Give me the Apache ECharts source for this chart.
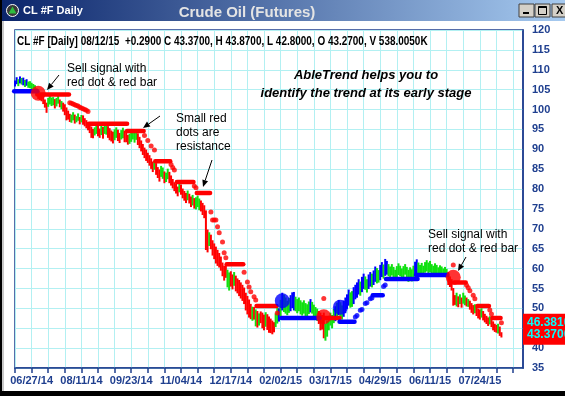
<!DOCTYPE html>
<html><head><meta charset="utf-8">
<script src="https://cdn.jsdelivr.net/npm/echarts@6/dist/echarts.min.js"></script>
<style>html,body{margin:0;padding:0;background:#fff;overflow:hidden}#c{width:565px;height:396px}</style>
</head><body><div id="c"></div><script>
// ---------- DATA ----------
const firstIndex = -10;               // bar index of first bar (0 = 06/27/14)
const tickLabels = ['06/27/14','08/11/14','09/23/14','11/04/14','12/17/14','02/02/15','03/17/15','04/29/15','06/11/15','07/24/15'];
const labelStep = 30;                 // bars between date labels
const tickStep = 10;                  // bars between tick marks
const yTicks = [35,40,45,50,55,60,65,70,75,80,85,90,95,100,105,110,115,120];

const high = [
 107.2,108.0,107.5,108.2,107.8,107.9,107.3,107.5,106.9,107.0,
 106.6,106.3,106.0,105.2,104.6,103.6,103.4,103.2,102.4,101.6,
 102.8,103.4,102.9,103.0,102.5,102.8,103.3,102.4,102.0,101.6,
 101.2,100.4,99.6,98.8,98.6,99.2,98.6,98.2,98.9,98.0,
 98.5,98.4,97.7,97.2,96.6,96.0,95.6,95.0,95.4,95.9,
 95.8,95.1,95.8,95.5,96.0,95.9,95.7,95.2,94.6,94.3,
 94.9,95.4,94.8,94.0,94.7,95.3,94.6,94.2,93.5,93.8,
 94.3,94.5,94.2,94.4,93.9,93.0,92.1,91.2,90.3,89.8,
 89.0,88.4,87.6,86.8,86.9,86.4,85.4,84.8,85.7,85.3,
 84.3,84.0,85.0,84.2,83.3,82.4,81.6,81.2,80.5,81.4,
 81.0,80.0,79.4,78.9,79.5,78.7,78.0,78.4,77.6,77.8,
 78.2,77.5,77.0,76.4,75.8,74.5,69.7,69.0,68.4,67.0,
 66.2,65.4,64.6,63.8,62.9,61.4,60.6,60.8,59.6,58.9,
 59.2,58.4,59.0,58.1,57.4,57.0,56.4,55.8,55.1,53.8,
 53.0,52.1,51.0,50.3,50.2,49.6,49.2,48.6,49.1,48.8,
 48.3,48.9,48.4,47.8,47.3,46.8,46.4,48.6,50.3,49.9,
 52.0,53.8,53.3,52.6,51.8,52.5,53.2,53.9,54.0,52.8,
 52.2,52.6,51.9,51.4,51.9,51.2,50.9,51.6,52.2,51.5,
 50.8,50.2,49.8,49.2,48.8,48.2,48.8,46.0,46.8,48.0,
 48.8,48.2,49.7,50.4,51.3,52.0,51.4,50.6,51.8,52.6,
 53.4,54.6,53.9,54.2,55.2,55.8,56.4,57.2,56.6,57.8,
 58.6,57.9,57.2,58.4,59.0,58.6,59.4,60.4,60.0,59.5,
 60.8,61.5,60.9,62.3,61.8,61.0,60.4,61.0,60.3,59.6,
 60.5,61.2,60.6,59.9,60.5,61.0,60.3,59.6,60.2,59.7,
 60.6,61.6,62.2,61.4,60.8,61.3,60.6,61.5,62.0,61.4,
 61.8,61.0,60.6,61.2,60.8,60.2,60.7,60.4,59.9,60.3,
 59.8,59.0,57.9,57.2,55.0,53.2,53.8,52.9,53.4,52.6,
 53.8,53.1,52.6,52.2,51.8,51.2,50.7,50.9,50.3,49.8,
 49.6,49.9,49.2,48.5,48.0,47.6,47.9,47.2,46.6,46.0,
 45.7,46.0,45.3,43.87
];
const low = [
 105.9,106.5,106.0,106.7,106.4,106.2,105.8,106.1,105.6,105.5,
 105.2,104.9,104.5,103.6,102.8,102.5,102.2,101.5,100.6,99.3,
 100.8,101.4,101.0,101.2,100.4,100.9,101.6,100.7,100.2,99.6,
 98.7,97.4,97.6,97.0,96.8,97.4,96.6,96.9,97.3,96.4,
 96.9,96.3,95.9,95.4,94.9,94.2,93.0,92.9,93.6,94.0,
 93.4,93.0,93.7,92.8,94.0,93.8,93.0,92.4,92.1,91.6,
 92.4,93.0,92.2,91.7,92.6,92.9,91.9,91.9,91.3,91.5,
 92.0,92.6,91.8,92.5,91.2,90.4,89.6,88.7,87.9,87.2,
 86.7,86.0,85.2,84.4,85.0,83.7,82.9,82.0,83.2,82.7,
 81.6,81.9,82.6,81.6,81.0,80.3,79.6,79.0,78.3,79.3,
 78.7,77.8,77.2,76.6,77.3,76.5,75.6,76.0,75.2,75.0,
 75.6,74.8,74.5,73.6,72.8,64.8,64.2,65.8,65.0,63.4,
 62.5,61.4,60.8,60.4,59.6,58.2,57.1,57.8,55.4,54.6,
 55.6,54.9,55.8,54.4,53.9,53.2,52.6,52.0,51.2,49.6,
 48.6,47.8,47.4,47.0,47.3,45.6,45.3,45.8,46.4,45.1,
 44.6,45.5,44.7,44.0,43.9,43.6,44.1,45.4,46.3,46.8,
 47.8,49.6,49.2,48.8,48.4,49.0,49.4,50.2,49.6,49.4,
 48.9,49.4,48.6,48.3,48.8,48.2,48.0,48.7,49.1,48.8,
 48.1,47.6,47.0,46.2,44.6,44.8,42.6,42.0,43.0,44.6,
 45.8,45.1,46.4,46.9,47.6,48.4,47.9,47.3,48.0,48.9,
 50.0,50.8,50.3,50.5,51.2,52.4,52.8,53.6,53.3,54.2,
 55.0,54.8,54.1,55.0,55.6,55.4,56.0,56.8,56.4,56.6,
 57.2,58.0,57.6,58.3,58.6,58.2,57.9,58.4,57.8,57.0,
 57.6,58.5,58.2,57.4,58.0,58.6,57.6,56.8,57.3,56.9,
 57.8,58.3,58.9,58.6,58.4,59.0,58.3,59.1,59.4,58.8,
 59.2,58.6,58.4,58.9,58.5,58.1,58.8,58.4,58.2,58.6,
 57.9,56.0,55.5,54.6,50.8,51.0,50.6,50.4,51.2,50.3,
 51.3,50.9,50.6,50.5,49.8,49.0,48.6,48.9,48.2,47.6,
 47.3,47.8,47.1,46.6,46.2,45.7,46.1,45.4,44.6,44.2,
 44.0,43.8,43.2,42.8
];
// bar colour per bar: b = up (blue), g = neutral (green), r = down (red)
const barColors = [
 'bbgbgbgbgg','gggrrrrrrr','ggggrggrgr','rrrrggrggr','grrrrrrrgg','rrgrggrrrr',
 'ggrrggrrrg','ggggrrrrrr','rrrrgrrrgg','rggrrrrrrg','rrrrgrrgrg','ggrrrrrgrr',
 'rrrrrrrrgg','rrgrrrrrrr','rrrgrgrgrr','rgrrrrrggb','gbggggbbbg','ggggggggbg',
 'gggrrrrggg','gggbgbggbb','bbggbbbbgb','bggbbgbbgg','bbgbbggggg','gggggggggg',
 'gbbggggggg','gggggggggg','grrrrrgrgr','ggrgrrrgrr','rgrrrrgrrr','rgrr'
];
// stop bars: [fromBar, toBar, price]
const redStopBars = [[4,22,103.8],[35,57,96.4],[58,67,94.6],[75,83,87.0],[88,97,81.8],[100,107,79.0],
  [118,127,61.1],[136,147,50.6],[176,185,47.6],[255,261,56.5],[269,275,50.6],[278,282,47.6]];
const blueStopBars = [[-10,3,104.6],[151,173,47.6],[186,194,46.6],[206,211,53.3],[214,232,57.4],[232,250,58.4]];
// stop dots: [bar, price]
const redStopDots = [[23,101.7],[24,101.6],[25,101.4],[26,101.2],[27,101.0],[28,100.9],[29,100.6],[30,100.4],
  [31,100.2],[32,100.0],[33,99.8],[34,99.5],[68,93.5],[70,92.2],[72,90.8],[74,89.8],[84,86.2],[85,85.4],[86,84.8],
  [98,80.8],[99,80.3],[108,74.2],[109,72.2],[110,72.2],[111,72.2],[112,70.5],[113,69.0],[115,66.7],[116,64.0],[117,62.7],
  [128,59.1],[130,56.6],[131,55.4],[132,54.2],[134,52.9],[135,52.1],[148,48.8],[176,52.5],[254,60.9],
  [262,55.8],[263,55.2],[264,54.4],[266,53.3],[267,52.4],[276,49.6],[277,48.6],[283,46.38]];
const blueStopDots = [[195,47.8],[196,48.2],[198,49.5],[199,49.7],[201,51.2],[202,51.4],[204,52.4],[205,52.6],[212,55.5],[213,55.9]];
// signal dots: [bar, price]
const redSignals = [[4,104.1],[176,47.9],[254,57.8]];
const blueSignals = [[151,51.9],[186,50.3]];
const lastValues = ['46.3810','43.3700'];
const headerText = 'CL #F [Daily] 08/12/15  +0.2900 C 43.3700, H 43.8700, L 42.8000, O 43.2700, V 538.0050K';

// ---------- CHART ----------
const FONT = 'Arial, "Liberation Sans", sans-serif';
const AXIS_BLUE = '#1f3f8f';
const GRID_CYAN = '#b2f0f2';
const colorMap = {r:'#ff0000', g:'#10e010', b:'#0000ff'};
const colStr = barColors.join('');
const barData = high.map((h,i)=>[firstIndex+i, low[i], h]);
const xMin = -10, xMax = 296;
const tickVals = []; for (let v = xMin; v <= 290; v += tickStep) tickVals.push(v);
const labelVals = tickLabels.map((_,i)=>i*labelStep);

const chart = echarts.init(document.getElementById('c'));

function stopBarSeries(data, color){
  return {
    type:'custom', data:data, z:4, silent:true,
    encode:{x:[0,1], y:2},
    renderItem:function(params, api){
      const a = api.coord([api.value(0)-0.5, api.value(2)]);
      const b = api.coord([api.value(1)+0.5, api.value(2)]);
      return {type:'line', shape:{x1:a[0],y1:a[1],x2:b[0],y2:b[1]}, style:{stroke:color, lineWidth:4.5, lineCap:'round'}};
    }
  };
}

chart.setOption({
  animation:false,
  backgroundColor:'#ffffff',
  grid:{left:15, right:42, top:30, bottom:28, show:true, backgroundColor:'#ffffff', borderColor:AXIS_BLUE, borderWidth:1.5},
  xAxis:{
    type:'value', min:xMin, max:xMax, interval:tickStep,
    axisLine:{show:true, onZero:false, lineStyle:{color:AXIS_BLUE, width:1.5}},
    axisTick:{show:true, length:5, customValues:tickVals, lineStyle:{color:AXIS_BLUE, width:1.5}},
    axisLabel:{customValues:labelVals, margin:7, color:AXIS_BLUE, fontFamily:FONT, fontWeight:'bold', fontSize:11,
      formatter:function(v){ const k = Math.round(v/labelStep); return (v % labelStep === 0 && k>=0 && k<tickLabels.length) ? tickLabels[k] : ''; }},
    splitLine:{show:true, lineStyle:{color:GRID_CYAN, width:1}}
  },
  yAxis:{
    type:'value', position:'right', min:yTicks[0], max:yTicks[yTicks.length-1], interval:5,
    axisLine:{show:true, onZero:false, lineStyle:{color:AXIS_BLUE, width:1.5}},
    axisTick:{show:false},
    axisLabel:{margin:9, color:AXIS_BLUE, fontFamily:FONT, fontWeight:'bold', fontSize:11},
    splitLine:{show:true, lineStyle:{color:GRID_CYAN, width:1}}
  },
  series:[
    {
      type:'custom', data:barData, z:3, silent:true,
      encode:{x:0, y:[1,2]},
      renderItem:function(params, api){
        const x = api.value(0);
        const a = api.coord([x, api.value(1)]);
        const b = api.coord([x, api.value(2)]);
        return {type:'line', shape:{x1:a[0],y1:a[1]+0.5,x2:b[0],y2:b[1]-0.5}, style:{stroke:colorMap[colStr[params.dataIndex]], lineWidth:2}};
      }
    },
    stopBarSeries(redStopBars, '#ff0000'),
    stopBarSeries(blueStopBars, '#0000ff'),
    {type:'scatter', data:redStopDots, symbol:'circle', symbolSize:5, z:5, silent:true, itemStyle:{color:'#ff0000'}},
    {type:'scatter', data:blueStopDots, symbol:'circle', symbolSize:5, z:5, silent:true, itemStyle:{color:'#0000ff'}},
    {type:'scatter', data:redSignals, symbol:'circle', symbolSize:15, z:6, silent:true, itemStyle:{color:'#ff0000'}},
    {type:'scatter', data:blueSignals, symbol:'circle', symbolSize:15, z:6, silent:true, itemStyle:{color:'#0000ff'}}
  ]
});

// ---------- window chrome & annotations ----------
function arrow(x1,y1,x2,y2){
  const ang = Math.atan2(y2-y1, x2-x1), L = 7, W = 3;
  const bx = x2 - L*Math.cos(ang), by = y2 - L*Math.sin(ang);
  const px = -Math.sin(ang)*W, py = Math.cos(ang)*W;
  return [
    {type:'line', z:100, shape:{x1:x1,y1:y1,x2:bx,y2:by}, style:{stroke:'#000', lineWidth:1}},
    {type:'polygon', z:100, shape:{points:[[x2,y2],[bx+px,by+py],[bx-px,by-py]]}, style:{fill:'#000'}}
  ];
}
function txt(x,y,text,opt,extra){
  return Object.assign({type:'text', x:x, y:y, z:100, style:Object.assign({text:text, fill:'#000', font:'12px '+FONT, textVerticalAlign:'middle', lineHeight:14}, opt||{})}, extra||{});
}
const yPix = v => chart.convertToPixel({yAxisIndex:0}, v);
const y1 = yPix(parseFloat(lastValues[0])), y2 = yPix(parseFloat(lastValues[1]));

const g = [
  // title bar
  {type:'rect', z:50, shape:{x:0,y:0,width:565,height:21},
   style:{fill:new echarts.graphic.LinearGradient(0,0,1,0,[{offset:0,color:'#0a246a'},{offset:1,color:'#a6caf0'}])}},
  {type:'circle', z:51, shape:{cx:12.5,cy:10.5,r:6}, style:{fill:'#3a3a3a', stroke:'#ffffff', lineWidth:1}},
  {type:'polygon', z:52, shape:{points:[[12.5,6.5],[16.5,13.5],[8.5,13.5]]}, style:{fill:'#2fbf3f'}},
  txt(23,10.5,'CL #F Daily',{fill:'#ffffff', font:'bold 11px '+FONT}),
  txt(247,13,'Crude Oil (Futures)',{fill:'#e4e4e4', font:'bold 15px '+FONT, textAlign:'center'}),
  // buttons
  {type:'rect', z:51, shape:{x:519,y:4,width:15,height:13}, style:{fill:'#d4d0c8', stroke:'#404040', lineWidth:1}},
  {type:'rect', z:52, shape:{x:523,y:12,width:6,height:2}, style:{fill:'#000'}},
  {type:'rect', z:51, shape:{x:535,y:4,width:15,height:13}, style:{fill:'#d4d0c8', stroke:'#404040', lineWidth:1}},
  {type:'rect', z:52, shape:{x:538.5,y:6.5,width:8,height:8}, style:{fill:'none', stroke:'#000', lineWidth:1}},
  {type:'rect', z:52, shape:{x:538.5,y:6.5,width:8,height:1.5}, style:{fill:'#000'}},
  {type:'rect', z:51, shape:{x:552,y:4,width:16,height:13}, style:{fill:'#d4d0c8', stroke:'#404040', lineWidth:1}},
  txt(556,11,'X',{fill:'#000', font:'bold 11px '+FONT}),
  // frame
  {type:'rect', z:50, shape:{x:0,y:0,width:2,height:396}, style:{fill:'#000'}},
  {type:'rect', z:50, shape:{x:2,y:21,width:2,height:372}, style:{fill:'#c8c8c8'}},
  {type:'rect', z:50, shape:{x:0,y:391,width:565,height:5}, style:{fill:'#000'}},
  // header (condensed horizontally to match the reference's narrow bold face)
  txt(17,41.5,headerText,{font:'bold 12px '+FONT},{scaleX:0.83}),
  // last value box
  {type:'rect', z:60, shape:{x:523,y:y1-9,width:42,height:(y2-y1)+19}, style:{fill:'#ff0000'}},
  txt(527,y1,lastValues[0],{fill:'#00ffff', font:'bold 12px '+FONT}),
  txt(527,y2,lastValues[1],{fill:'#00ffff', font:'bold 12px '+FONT}),
  // annotations
  txt(67,76,'Sell signal with\nred dot & red bar'),
  txt(176,133,'Small red\ndots are\nresistance'),
  txt(366,84,'AbleTrend helps you to\nidentify the trend at its early stage',{font:'italic bold 13px '+FONT, textAlign:'center', lineHeight:18}),
  txt(428,242,'Sell signal with\nred dot & red bar')
].concat(arrow(59,75,47,90), arrow(160,116,143,128), arrow(212,160,203,187), arrow(466,257,458,271));
chart.setOption({graphic:{elements:g}});
</script></body></html>
